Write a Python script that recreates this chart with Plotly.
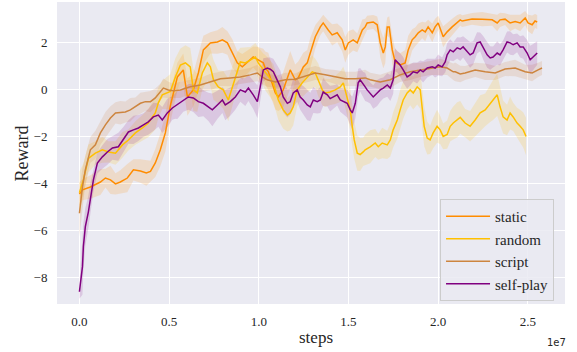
import plotly.graph_objects as go

# ---------------- data (steps in units of 1e7) ----------------
static_steps = [0.0, 0.017, 0.061, 0.117, 0.145, 0.173, 0.201, 0.228, 0.267, 0.301,
                0.34, 0.373, 0.396, 0.423, 0.451, 0.479, 0.507, 0.524, 0.546, 0.579,
                0.602, 0.635, 0.663, 0.691, 0.73, 0.769, 0.797, 0.825, 0.852, 0.88,
                0.908, 0.936, 0.969, 0.997, 1.025, 1.036, 1.053, 1.092, 1.109, 1.136,
                1.175, 1.203, 1.22, 1.248, 1.27, 1.287, 1.315, 1.343, 1.359, 1.387,
                1.409, 1.437, 1.465, 1.482, 1.499, 1.526, 1.549, 1.577, 1.593, 1.604,
                1.638, 1.66, 1.677, 1.694, 1.705, 1.716, 1.727, 1.744, 1.76, 1.788,
                1.816, 1.833, 1.855, 1.872, 1.889, 1.911, 1.928, 1.944, 1.967, 1.983,
                2.0, 2.028, 2.05, 2.078, 2.106, 2.123, 2.134, 2.189, 2.245, 2.301,
                2.329, 2.345, 2.373, 2.401, 2.429, 2.457, 2.485, 2.501, 2.524, 2.54,
                2.552]
static_reward = [-4.46, -4.28, -4.16, -3.95, -3.78, -3.86, -4.03, -3.95, -3.78, -3.43,
                 -3.48, -3.56, -3.5, -3.14, -2.58, -1.86, -0.7, -0.16, 0.52, 0.82,
                 -0.33, -0.03, 0.69, 1.67, 1.97, 2.01, 2.1, 1.97, 1.54, 1.12,
                 0.95, 1.16, 1.37, 1.25, 1.12, 0.9, 0.75, -0.16, -0.33, -0.03,
                 0.82, 0.4, 0.48, 0.95, 1.12, 1.54, 2.23, 2.65, 2.82, 2.52,
                 2.31, 2.4, 2.1, 1.67, 1.97, 2.1, 1.97, 2.52, 2.65, 2.82,
                 2.86, 2.74, 1.97, 1.54, 1.8, 2.65, 2.65, 1.67, 1.16, 1.03,
                 1.12, 1.67, 2.1, 2.23, 2.4, 2.52, 2.44, 2.65, 2.4, 2.65,
                 2.82, 2.23, 2.44, 2.65, 2.86, 2.95, 2.9, 2.99, 2.98, 2.95,
                 2.82, 2.95, 2.98, 2.82, 2.88, 2.82, 3.03, 2.82, 2.74, 2.9,
                 2.86]
static_spread = [0.5, 0.45, 0.5, 0.55, 0.4, 0.6, 0.45, 0.5, 0.6, 0.45,
                 0.5, 0.55, 0.45, 0.6, 0.7, 0.8, 0.7, 0.6, 0.6, 0.7,
                 0.8, 0.7, 0.8, 0.6, 0.45, 0.5, 0.55, 0.5, 0.6, 0.5,
                 0.55, 0.5, 0.45, 0.55, 0.6, 0.7, 0.8, 0.7, 0.6, 0.75,
                 0.8, 0.65, 0.7, 0.6, 0.55, 0.65, 0.5, 0.35, 0.35, 0.4,
                 0.45, 0.4, 0.5, 0.55, 0.5, 0.45, 0.4, 0.45, 0.35, 0.3,
                 0.3, 0.35, 0.6, 0.65, 0.7, 0.4, 0.45, 0.6, 0.55, 0.5,
                 0.55, 0.6, 0.45, 0.4, 0.4, 0.35, 0.4, 0.3, 0.4, 0.35,
                 0.3, 0.45, 0.4, 0.35, 0.3, 0.25, 0.25, 0.25, 0.3, 0.25,
                 0.35, 0.3, 0.25, 0.35, 0.3, 0.35, 0.3, 0.35, 0.4, 0.3,
                 0.3]

random_steps = [0.0, 0.022, 0.05, 0.089, 0.128, 0.162, 0.201, 0.24, 0.273, 0.312,
                0.351, 0.384, 0.423, 0.44, 0.462, 0.49, 0.507, 0.535, 0.563, 0.591,
                0.618, 0.635, 0.657, 0.685, 0.713, 0.73, 0.747, 0.774, 0.802, 0.83,
                0.852, 0.88, 0.897, 0.925, 0.953, 0.981, 0.997, 1.025, 1.036, 1.081,
                1.109, 1.136, 1.159, 1.175, 1.192, 1.214, 1.242, 1.27, 1.298, 1.315,
                1.331, 1.354, 1.37, 1.398, 1.426, 1.454, 1.471, 1.493, 1.51, 1.521,
                1.532, 1.549, 1.565, 1.582, 1.593, 1.621, 1.649, 1.666, 1.688, 1.716,
                1.733, 1.749, 1.772, 1.788, 1.805, 1.827, 1.844, 1.861, 1.883, 1.9,
                1.911, 1.922, 1.939, 1.955, 1.972, 1.994, 2.011, 2.028, 2.05, 2.067,
                2.084, 2.106, 2.123, 2.15, 2.178, 2.206, 2.234, 2.262, 2.29, 2.306,
                2.329, 2.345, 2.362, 2.384, 2.401, 2.418, 2.44, 2.457, 2.474, 2.49]
random_reward = [-4.4, -3.86, -2.95, -2.72, -2.58, -2.67, -2.72, -2.37, -2.16, -1.86,
                 -1.65, -1.44, -1.01, -0.58, -0.24, -0.16, -0.1, 0.52, 1.03, 1.12,
                 0.95, -0.03, -0.16, 0.69, 1.12, 0.95, 0.4, 0.1, -0.03, -0.46,
                 0.1, 0.82, 1.16, 1.12, 1.25, 1.37, 1.12, 0.82, 0.7, 0.27,
                 -0.46, -0.88, -1.1, -1.01, -0.75, -0.03, 0.27, 0.52, 0.74, 0.69,
                 0.4, -0.03, -0.16, -0.12, -0.03, 0.1, 0.27, -0.33, -0.88, -1.58,
                 -2.16, -2.72, -2.78, -2.67, -2.58, -2.45, -2.29, -2.45, -2.29, -2.37,
                 -2.16, -1.73, -1.31, -0.88, -0.46, -0.16, -0.03, -0.16, 0.1, -0.03,
                 -0.88, -1.58, -2.08, -2.16, -1.86, -1.58, -1.73, -2.01, -1.93, -1.58,
                 -1.44, -1.31, -1.2, -1.44, -1.58, -1.31, -1.01, -0.88, -0.6, -0.46,
                 -0.24, -0.75, -1.18, -1.31, -1.01, -1.18, -1.44, -1.58, -1.73, -2.01]
random_spread = [0.9, 0.7, 0.6, 0.5, 0.55, 0.45, 0.5, 0.55, 0.45, 0.5,
                 0.55, 0.6, 0.7, 0.65, 0.6, 0.7, 0.75, 0.8, 0.7, 0.75,
                 0.8, 0.9, 0.8, 0.7, 0.75, 0.8, 0.85, 0.7, 0.8, 0.9,
                 0.85, 0.75, 0.6, 0.65, 0.55, 0.6, 0.65, 0.7, 0.75, 0.8,
                 0.85, 0.8, 0.7, 0.75, 0.8, 0.7, 0.6, 0.65, 0.7, 0.6,
                 0.7, 0.65, 0.6, 0.55, 0.6, 0.65, 0.7, 0.8, 0.9, 0.85,
                 0.8, 0.75, 0.7, 0.6, 0.65, 0.7, 0.6, 0.55, 0.65, 0.6,
                 0.7, 0.75, 0.8, 0.85, 0.8, 0.7, 0.65, 0.7, 0.75, 0.8,
                 0.9, 0.85, 0.7, 0.6, 0.65, 0.7, 0.6, 0.55, 0.6, 0.65,
                 0.7, 0.75, 0.7, 0.6, 0.65, 0.7, 0.75, 0.7, 0.8, 0.85,
                 0.9, 0.8, 0.7, 0.65, 0.7, 0.6, 0.65, 0.7, 0.75, 0.8]

script_steps = [0.0, 0.017, 0.033, 0.061, 0.089, 0.117, 0.145, 0.173, 0.201, 0.228,
                0.256, 0.284, 0.312, 0.34, 0.368, 0.396, 0.423, 0.451, 0.468, 0.496,
                0.524, 0.563, 0.618, 0.674, 0.73, 0.786, 0.841, 0.897, 0.953, 0.992,
                1.019, 1.047, 1.092, 1.148, 1.203, 1.259, 1.315, 1.37, 1.426, 1.482,
                1.538, 1.593, 1.621, 1.677, 1.733, 1.788, 1.844, 1.9, 1.955, 2.011,
                2.05, 2.084, 2.095, 2.123, 2.15, 2.206, 2.262, 2.318, 2.373, 2.429,
                2.485, 2.524, 2.557, 2.579]
script_reward = [-5.28, -4.16, -3.43, -2.58, -2.37, -1.86, -1.52, -1.23, -1.01, -1.0,
                 -0.97, -0.88, -0.75, -0.6, -0.53, -0.53, -0.37, -0.12, 0.05, -0.03,
                 -0.07, -0.03, 0.1, 0.18, 0.31, 0.44, 0.48, 0.52, 0.61, 0.69,
                 0.52, 0.4, 0.31, 0.4, 0.42, 0.57, 0.69, 0.61, 0.52, 0.44,
                 0.44, 0.48, 0.4, 0.31, 0.4, 0.61, 0.74, 0.82, 0.9, 0.95,
                 0.9, 0.74, 0.74, 0.65, 0.69, 0.82, 0.74, 0.69, 0.86, 0.9,
                 0.74, 0.69, 0.82, 0.9]
script_spread = [1.0, 0.8, 0.6, 0.55, 0.6, 0.5, 0.55, 0.5, 0.45, 0.5,
                 0.45, 0.5, 0.4, 0.45, 0.4, 0.45, 0.4, 0.35, 0.4, 0.35,
                 0.3, 0.35, 0.3, 0.3, 0.35, 0.3, 0.35, 0.3, 0.3, 0.35,
                 0.3, 0.3, 0.25, 0.3, 0.25, 0.3, 0.3, 0.25, 0.3, 0.3,
                 0.3, 0.35, 0.3, 0.3, 0.35, 0.3, 0.35, 0.3, 0.3, 0.35,
                 0.3, 0.35, 0.4, 0.35, 0.3, 0.3, 0.35, 0.3, 0.3, 0.35,
                 0.3, 0.35, 0.3, 0.3]

selfplay_steps = [0.0, 0.017, 0.022, 0.033, 0.05, 0.061, 0.078, 0.1, 0.128, 0.156,
                  0.184, 0.217, 0.245, 0.273, 0.301, 0.329, 0.357, 0.384, 0.412, 0.44,
                  0.462, 0.49, 0.518, 0.535, 0.546, 0.579, 0.607, 0.635, 0.663, 0.691,
                  0.719, 0.741, 0.769, 0.797, 0.813, 0.841, 0.869, 0.897, 0.925, 0.942,
                  0.969, 0.992, 1.008, 1.025, 1.047, 1.064, 1.081, 1.103, 1.12, 1.136,
                  1.159, 1.175, 1.192, 1.214, 1.231, 1.248, 1.27, 1.287, 1.304, 1.326,
                  1.343, 1.359, 1.382, 1.398, 1.415, 1.437, 1.454, 1.471, 1.493, 1.51,
                  1.521, 1.538, 1.554, 1.565, 1.582, 1.593, 1.604, 1.621, 1.638, 1.66,
                  1.677, 1.694, 1.716, 1.733, 1.749, 1.76, 1.772, 1.788, 1.805, 1.827,
                  1.844, 1.861, 1.883, 1.9, 1.916, 1.939, 1.967, 1.983, 2.0, 2.022,
                  2.039, 2.05, 2.067, 2.084, 2.106, 2.123, 2.139, 2.162, 2.178, 2.195,
                  2.217, 2.234, 2.251, 2.273, 2.29, 2.306, 2.329, 2.345, 2.362, 2.384,
                  2.401, 2.418, 2.44, 2.457, 2.474, 2.496, 2.513, 2.529, 2.552]
selfplay_reward = [-8.62, -7.55, -6.7, -5.85, -5.22, -4.6, -3.86, -3.14, -2.88, -2.67,
                   -2.5, -2.45, -2.16, -1.82, -1.73, -1.65, -1.52, -1.39, -1.18, -1.1,
                   -1.31, -1.01, -0.8, -0.71, -0.67, -0.46, -0.33, -0.37, -0.53, -0.6,
                   -0.75, -0.88, -0.67, -0.46, -0.67, -0.53, -0.33, -0.03, -0.12, 0.05,
                   -0.24, -0.53, 0.1, 0.82, 0.9, 0.85, 0.74, 0.4, 0.1, -0.33,
                   -0.6, -0.53, -0.16, -0.03, -0.33, -0.46, -0.67, -0.75, -0.46, -0.53,
                   -0.46, -0.12, -0.24, -0.4, -0.33, -0.24, -0.46, -0.53, -0.6, -0.88,
                   -1.01, -0.6, 0.27, 0.4, 0.18, 0.1, -0.03, -0.16, -0.33, -0.16,
                   -0.03, 0.05, 0.18, 0.05, 0.4, 1.25, 1.16, 1.03, 0.82, 0.52,
                   0.61, 0.74, 0.69, 0.82, 0.74, 0.9, 0.95, 0.9, 1.03, 0.95,
                   1.16, 1.46, 1.67, 1.59, 1.76, 1.7, 1.8, 1.59, 1.46, 1.54,
                   1.97, 2.01, 1.76, 1.46, 1.33, 1.37, 1.54, 1.46, 1.67, 2.01,
                   1.97, 1.89, 1.97, 1.8, 1.8, 1.54, 1.25, 1.37, 1.54]
selfplay_spread = [0.3, 1.2, 1.0, 0.8, 0.7, 0.6, 0.5, 0.45, 0.5, 0.55,
                   0.5, 0.6, 0.55, 0.5, 0.6, 0.55, 0.5, 0.55, 0.6, 0.5,
                   0.55, 0.6, 0.5, 0.55, 0.6, 0.5, 0.55, 0.6, 0.65, 0.55,
                   0.6, 0.7, 0.6, 0.55, 0.65, 0.6, 0.55, 0.5, 0.6, 0.55,
                   0.6, 0.7, 0.6, 0.5, 0.45, 0.5, 0.55, 0.6, 0.7, 0.65,
                   0.6, 0.55, 0.6, 0.5, 0.55, 0.6, 0.65, 0.6, 0.55, 0.5,
                   0.55, 0.6, 0.5, 0.55, 0.5, 0.45, 0.5, 0.55, 0.6, 0.65,
                   0.7, 0.65, 0.6, 0.5, 0.55, 0.6, 0.5, 0.45, 0.5, 0.55,
                   0.5, 0.45, 0.5, 0.55, 0.6, 0.5, 0.45, 0.5, 0.55, 0.5,
                   0.45, 0.4, 0.45, 0.4, 0.45, 0.4, 0.35, 0.4, 0.45, 0.4,
                   0.45, 0.5, 0.45, 0.4, 0.45, 0.5, 0.45, 0.5, 0.55, 0.5,
                   0.45, 0.4, 0.5, 0.55, 0.5, 0.45, 0.5, 0.45, 0.4, 0.45,
                   0.5, 0.45, 0.4, 0.45, 0.5, 0.55, 0.6, 0.55, 0.5]

series_names = ["static", "random", "script", "self-play"]
x_ticks = [0.0, 0.5, 1.0, 1.5, 2.0, 2.5]
x_tick_labels = ["0.0", "0.5", "1.0", "1.5", "2.0", "2.5"]
y_ticks = [-8, -6, -4, -2, 0, 2]
y_tick_labels = ["\u22128", "\u22126", "\u22124", "\u22122", "0", "2"]

# ---------------- styling ----------------
colors = ["#FF8C00", "#FFC000", "#CD853F", "#800080"]
bands = ["rgba(255,140,0,0.17)", "rgba(255,192,0,0.17)",
         "rgba(205,133,63,0.17)", "rgba(128,0,128,0.15)"]
FONT = "Liberation Serif"
TXT = "#262626"

fig = go.Figure()
data = [
    (static_steps, static_reward, static_spread),
    (random_steps, random_reward, random_spread),
    (script_steps, script_reward, script_spread),
    (selfplay_steps, selfplay_reward, selfplay_spread),
]
for (xs, ys, sp), name, col, bcol in zip(data, series_names, colors, bands):
    n = min(len(xs), len(ys), len(sp))
    xs, ys, sp = xs[:n], ys[:n], sp[:n]
    lo = [y - s for y, s in zip(ys, sp)]
    hi = [y + s for y, s in zip(ys, sp)]
    fig.add_trace(go.Scatter(x=xs, y=lo, mode="lines", line=dict(width=0),
                             showlegend=False, hoverinfo="skip"))
    fig.add_trace(go.Scatter(x=xs, y=hi, mode="lines", line=dict(width=0),
                             fill="tonexty", fillcolor=bcol,
                             showlegend=False, hoverinfo="skip"))
for (xs, ys, sp), name, col in zip(data, series_names, colors):
    n = min(len(xs), len(ys))
    fig.add_trace(go.Scatter(x=xs[:n], y=ys[:n], mode="lines", name=name,
                             line=dict(color=col, width=1.5)))

fig.update_layout(
    width=577, height=352,
    margin=dict(l=57, r=12, t=2, b=48, autoexpand=False),
    paper_bgcolor="white", plot_bgcolor="#EAEAF2",
    font=dict(family=FONT, color=TXT, size=13),
    showlegend=True,
    legend=dict(x=0.754, y=0.348, xanchor="left", yanchor="top",
                traceorder="normal",
                bgcolor="rgba(234,234,242,0.85)", bordercolor="#CCCCCC",
                borderwidth=1, font=dict(family=FONT, size=15, color=TXT),
                tracegroupgap=0, itemwidth=44),
)
fig.update_xaxes(range=[-0.125, 2.707], tickvals=x_ticks, ticktext=x_tick_labels,
                 showgrid=True, gridcolor="white", gridwidth=1.2, zeroline=False,
                 showline=False, ticks="outside", ticklen=5, tickcolor="rgba(0,0,0,0)",
                 tickfont=dict(family=FONT, size=13, color=TXT), automargin=False)
fig.update_yaxes(range=[-9.14, 3.71], tickvals=y_ticks, ticktext=y_tick_labels,
                 showgrid=True, gridcolor="white", gridwidth=1.2, zeroline=False,
                 showline=False, ticks="outside", ticklen=6, tickcolor="rgba(0,0,0,0)",
                 tickfont=dict(family=FONT, size=13, color=TXT), automargin=False)
# axis titles
fig.add_annotation(text="steps", xref="paper", yref="paper", x=0.51, y=-0.11,
                   xanchor="center", yanchor="middle", showarrow=False,
                   font=dict(family=FONT, size=17, color=TXT))
fig.add_annotation(text="Reward", xref="paper", yref="paper", x=-0.068, y=0.5,
                   xanchor="center", yanchor="middle", showarrow=False, textangle=-90,
                   font=dict(family=FONT, size=18, color=TXT))
fig.add_annotation(text="1e7", xref="paper", yref="paper", x=0.984, y=-0.129,
                   xanchor="center", yanchor="middle", showarrow=False,
                   font=dict(family="DejaVu Sans", size=10, color=TXT))

fig.write_html("out.html", config={"displayModeBar": False},
               post_script="document.body.style.margin='0';"
                           "document.body.style.overflow='hidden';")
